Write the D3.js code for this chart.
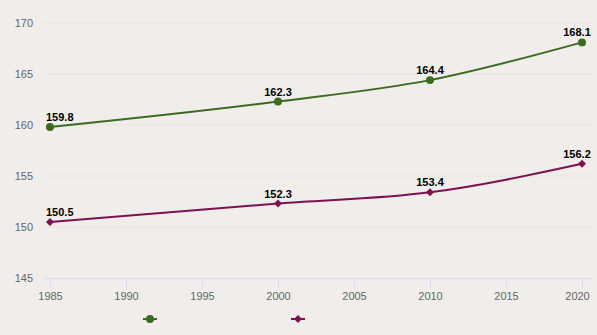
<!DOCTYPE html>
<html>
<head>
<meta charset="utf-8">
<script src="https://cdn.jsdelivr.net/npm/d3@7"></script>
<style>
  html, body { margin: 0; padding: 0; background: #f0edea; }
  svg { display: block; font-family: "Liberation Sans", Arial, sans-serif; }
</style>
</head>
<body>
<svg id="chart" width="597" height="335"></svg>
<script>
// Average height by census year
const years = [1985, 2000, 2010, 2020];
const seriesA = [159.8, 162.3, 164.4, 168.1];
const seriesB = [150.5, 152.3, 153.4, 156.2];
const yTicks = [145, 150, 155, 160, 165, 170];
const xTicks = [1985, 1990, 1995, 2000, 2005, 2010, 2015, 2020];

const colorA = "#3a6b21";
const colorB = "#7c1250";

const svg = d3.select("#chart");

const x = d3.scaleLinear().domain([1985, 2020]).range([50, 582]);
const y = d3.scaleLinear().domain([145, 170]).range([278, 23]);

// square diamond marker (a square turned 45 degrees)
const diamond = {
  draw(ctx, size) {
    const r = Math.sqrt(size) / 2;
    ctx.moveTo(0, -r); ctx.lineTo(r, 0); ctx.lineTo(0, r); ctx.lineTo(-r, 0); ctx.closePath();
  }
};

// horizontal grid
svg.append("g").selectAll("line")
  .data(yTicks.filter(d => d !== 145))
  .join("line")
  .attr("x1", 44).attr("x2", 592)
  .attr("y1", d => y(d)).attr("y2", d => y(d))
  .attr("stroke", "#e6e3e0").attr("stroke-width", 1);

// y labels
svg.append("g").selectAll("text")
  .data(yTicks)
  .join("text")
  .attr("x", 33).attr("y", d => y(d) + 4)
  .attr("text-anchor", "end")
  .attr("font-size", 11).attr("fill", "#666")
  .text(d => d);

// x axis
const xAxis = d3.axisBottom(x).tickValues(xTicks).tickFormat(d3.format("d")).tickSize(10).tickPadding(4);
const gx = svg.append("g").attr("transform", `translate(0,${y(145) + 0.5})`).call(xAxis);
gx.select(".domain").attr("d", "M44,0H592").attr("stroke", "#d8dde8");
gx.selectAll(".tick line").attr("stroke", "#d8dde8");
gx.selectAll(".tick text").attr("fill", "#666").attr("font-size", 11)
  .attr("font-family", "'Liberation Sans', Arial, sans-serif");
gx.selectAll(".tick text").filter(d => d === 2020).attr("dx", -5);

const line = d3.line().x((d, i) => x(years[i])).y(d => y(d)).curve(d3.curveMonotoneX);

function drawSeries(vals, color, symbolType, size) {
  const g = svg.append("g");
  g.append("path").attr("d", line(vals)).attr("fill", "none")
    .attr("stroke", color).attr("stroke-width", 2);
  g.selectAll("path.pt").data(vals).join("path").attr("class", "pt")
    .attr("transform", (d, i) => `translate(${x(years[i])},${y(d)})`)
    .attr("d", d3.symbol().type(symbolType).size(size))
    .attr("fill", color);
  g.selectAll("text").data(vals).join("text")
    .attr("x", (d, i) => x(years[i]) - (i === years.length - 1 ? 5 : 0))
    .attr("y", d => y(d) - 6)
    .attr("text-anchor", (d, i) => i === 0 ? "start" : "middle")
    .attr("dx", (d, i) => i === 0 ? -4 : 0)
    .attr("font-size", 11).attr("font-weight", "bold").attr("fill", "#000")
    .attr("stroke", "#f0edea").attr("stroke-width", 2).attr("paint-order", "stroke")
    .text(d => d.toFixed(1));
}

drawSeries(seriesA, colorA, d3.symbolCircle, 50);
drawSeries(seriesB, colorB, diamond, 64);

// legend
const legend = [
  { color: colorA, symbol: d3.symbolCircle, size: 50, cx: 150 },
  { color: colorB, symbol: diamond, size: 64, cx: 298 }
];
const lg = svg.append("g");
legend.forEach(l => {
  lg.append("line").attr("x1", l.cx - 7).attr("x2", l.cx + 7)
    .attr("y1", 319).attr("y2", 319).attr("stroke", l.color).attr("stroke-width", 2);
  lg.append("path").attr("transform", `translate(${l.cx},319)`)
    .attr("d", d3.symbol().type(l.symbol).size(l.size)).attr("fill", l.color);
});
</script>
</body>
</html>
